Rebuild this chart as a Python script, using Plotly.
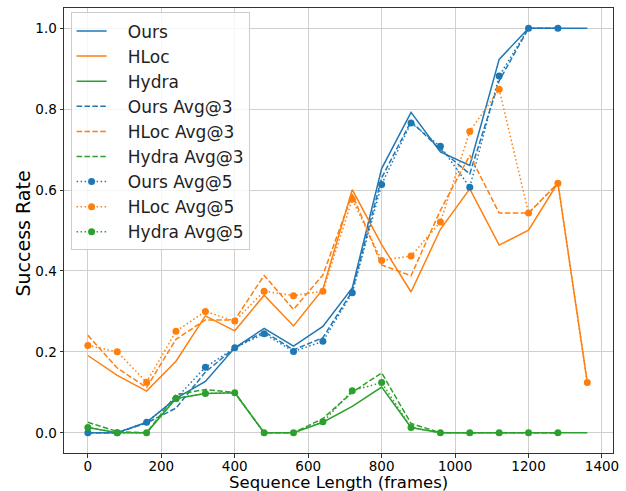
import plotly.graph_objects as go

x_vals = [0, 80, 160, 240, 320, 400, 480, 560, 640, 720, 800, 880, 960, 1040, 1120, 1200, 1280, 1360]

ours = [0.0, 0.0, 0.026, 0.085, 0.127, 0.21, 0.258, 0.214, 0.263, 0.358, 0.653, 0.792, 0.694, 0.661, 0.923, 1.0, 1.0, 1.0]
hloc = [0.191, 0.142, 0.103, 0.177, 0.289, 0.252, 0.34, 0.264, 0.355, 0.601, 0.465, 0.348, 0.503, 0.603, 0.464, 0.501, 0.618, 0.124]
hydra = [0.013, 0.0, 0.0, 0.085, 0.097, 0.099, 0.0, 0.0, 0.026, 0.065, 0.113, 0.013, 0.0, 0.0, 0.0, 0.0, 0.0, 0.0]

ours_avg3 = [0.0, 0.0, 0.024, 0.061, 0.15, 0.21, 0.25, 0.205, 0.235, 0.35, 0.63, 0.77, 0.70, 0.64, 0.87, 1.0, 1.0]
hloc_avg3 = [0.241, 0.16, 0.112, 0.231, 0.279, 0.279, 0.389, 0.305, 0.39, 0.59, 0.415, 0.388, 0.55, 0.686, 0.543, 0.543, 0.617]
hydra_avg3 = [0.026, 0.003, 0.0, 0.094, 0.107, 0.10, 0.0, 0.0, 0.035, 0.10, 0.148, 0.023, 0.0, 0.0, 0.0, 0.0, 0.0]

ours_avg5 = [0.0, 0.0, 0.026, 0.085, 0.162, 0.21, 0.245, 0.201, 0.226, 0.346, 0.614, 0.766, 0.708, 0.607, 0.882, 1.0, 1.0]
hloc_avg5 = [0.216, 0.2, 0.125, 0.251, 0.30, 0.276, 0.35, 0.339, 0.35, 0.577, 0.426, 0.437, 0.521, 0.745, 0.849, 0.543, 0.617, 0.124]
hydra_avg5 = [0.013, 0.0, 0.0, 0.085, 0.097, 0.099, 0.0, 0.0, 0.027, 0.104, 0.124, 0.013, 0.0, 0.0, 0.0, 0.0, 0.0]

x_ticks = [0, 200, 400, 600, 800, 1000, 1200, 1400]
y_ticks = [0.0, 0.2, 0.4, 0.6, 0.8, 1.0]
y_tick_labels = ["0.0", "0.2", "0.4", "0.6", "0.8", "1.0"]

BLUE, ORANGE, GREEN = "#1f77b4", "#ff7f0e", "#2ca02c"
DASH = "5.5px,2.4px"
DOT = "1.5px,2.5px"
PAD = "\u00a0\u00a0\u00a0"

fig = go.Figure()

def add(name, y, color, dash, markers=False):
    fig.add_trace(go.Scatter(
        x=x_vals[:len(y)], y=y, name=PAD + name,
        mode="lines+markers" if markers else "lines",
        line=dict(color=color, width=1.5, dash=dash),
        marker=dict(size=7, color=color),
    ))

add("Ours", ours, BLUE, "solid")
add("HLoc", hloc, ORANGE, "solid")
add("Hydra", hydra, GREEN, "solid")
add("Ours Avg@3", ours_avg3, BLUE, DASH)
add("HLoc Avg@3", hloc_avg3, ORANGE, DASH)
add("Hydra Avg@3", hydra_avg3, GREEN, DASH)
add("Ours Avg@5", ours_avg5, BLUE, DOT, True)
add("HLoc Avg@5", hloc_avg5, ORANGE, DOT, True)
add("Hydra Avg@5", hydra_avg5, GREEN, DOT, True)

axis_common = dict(
    showgrid=True, gridcolor="#d0d0d0", gridwidth=1,
    showline=True, linecolor="#333333", linewidth=1, mirror=True,
    ticks="outside", ticklen=3.5, tickcolor="#333333",
    zeroline=False, automargin=False,
    tickfont=dict(family="DejaVu Sans", size=13.5, color="black"),
)

fig.update_layout(
    width=626, height=491,
    margin=dict(l=64, r=13, t=8, b=38),
    paper_bgcolor="white", plot_bgcolor="white",
    font=dict(family="DejaVu Sans", color="black"),
    xaxis=dict(range=[-65, 1430], tickvals=x_ticks, ticklabelstandoff=-3, **axis_common),
    yaxis=dict(range=[-0.05, 1.05], tickvals=y_ticks, ticktext=y_tick_labels, **axis_common),
    legend=dict(x=0.012, y=0.99, xanchor="left", yanchor="top",
                bgcolor="rgba(255,255,255,0.8)", bordercolor="#cccccc", borderwidth=1,
                font=dict(family="DejaVu Sans", size=17, color="#222"),
                itemwidth=30),
    showlegend=True,
    annotations=[
        dict(text="Sequence Length (frames)", xref="paper", yref="paper",
             x=0.5, y=0, xanchor="center", yanchor="middle", yshift=-29,
             showarrow=False, borderpad=0, font=dict(size=16.5, color="black")),
        dict(text="Success Rate", xref="paper", yref="paper",
             x=0, y=0.5, xanchor="center", yanchor="middle", xshift=-42, yshift=-3,
             textangle=-90, showarrow=False, font=dict(size=19, color="black")),
    ],
)

fig.write_html("out.html")
